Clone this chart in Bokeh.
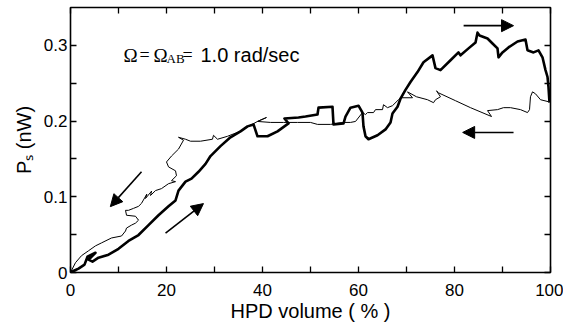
from bokeh.plotting import figure
from bokeh.models import (Range1d, LinearAxis, FixedTicker, Label, Arrow,
                          NormalHead, ColumnDataSource)
from bokeh.embed import file_html
from bokeh.resources import INLINE

# ---------------- data ----------------
# thick curve: HPD volume increasing
hpd_up = [0.0, 0.83, 1.67, 2.92, 3.54, 5.21, 3.75, 4.58, 5.83, 7.92, 10.0, 12.08,
          14.17, 16.25, 18.33, 20.42, 21.88, 22.5, 23.96, 25.21, 26.67, 28.13,
          29.17, 31.25, 33.33, 35.42, 36.88, 38.13, 38.96, 41.04, 43.13, 45.42,
          44.58, 47.5, 48.96, 51.46, 51.67, 54.58, 54.79, 56.88, 57.29, 58.33,
          60.0, 60.83, 61.04, 61.46, 62.08, 63.96, 65.63, 66.67, 67.08, 68.13,
          68.75, 69.79, 70.83, 72.29, 73.54, 75.42, 76.04, 77.08, 79.17, 80.83,
          81.25, 82.92, 84.38, 84.79, 85.21, 86.88, 87.92, 88.96, 89.17, 90.0,
          91.25, 93.13, 94.79, 95.21, 96.46, 97.5, 98.33, 98.96, 99.38, 99.58,
          99.79]
ps_up = [0.0, 0.0026, 0.0052, 0.0104, 0.0209, 0.0261, 0.0169, 0.0143, 0.0196,
         0.0235, 0.0313, 0.0417, 0.0495, 0.0626, 0.0756, 0.0874, 0.0952, 0.1082,
         0.12, 0.1239, 0.133, 0.1434, 0.1538, 0.1669, 0.1786, 0.1864, 0.193,
         0.1956, 0.1799, 0.1799, 0.1864, 0.1969, 0.2034, 0.2047, 0.206, 0.2086,
         0.2177, 0.219, 0.1956, 0.1969, 0.206, 0.2177, 0.2203, 0.2112, 0.193,
         0.1799, 0.176, 0.1812, 0.189, 0.1982, 0.2099, 0.219, 0.2295, 0.2412,
         0.2516, 0.2647, 0.2777, 0.2868, 0.2699, 0.2673, 0.2803, 0.2907, 0.2868,
         0.296, 0.3038, 0.3168, 0.3129, 0.309, 0.3025, 0.296, 0.2842, 0.2907,
         0.2973, 0.3051, 0.3077, 0.2934, 0.2907, 0.2934, 0.2842, 0.2673, 0.2582,
         0.2451, 0.2243]

# thin curve: HPD volume decreasing (from 100 % back to 0)
hpd_down = [99.58, 97.92, 96.88, 96.25, 95.83, 95.63, 95.21, 93.75, 91.67, 90.21,
            88.96, 86.88, 87.71, 83.33, 80.21, 76.67, 76.25, 77.08, 76.04, 75.63,
            74.38, 72.08, 70.21, 71.25, 68.75, 68.33, 67.08, 66.04, 65.21, 65.0,
            63.54, 63.13, 61.88, 61.46, 60.83, 59.38, 58.33, 56.88, 54.17, 51.46,
            50.0, 47.29, 44.38, 41.67, 38.96, 40.83, 38.96, 37.08, 36.04, 34.79,
            32.71, 30.63, 29.79, 29.58, 27.08, 25.0, 23.96, 22.5, 23.54, 22.5,
            21.04, 20.0, 20.42, 21.88, 22.08, 21.04, 21.88, 20.42, 18.96, 17.71,
            16.67, 16.9, 15.63, 15.9, 14.79, 14.17, 13.13, 12.08, 11.46, 11.67,
            13.54, 14.17, 13.54, 12.71, 11.67, 11.46, 10.63, 8.54, 6.46, 5.21,
            3.75, 2.29, 1.04, 0.0]
ps_down = [0.2256, 0.2282, 0.236, 0.2386, 0.2321, 0.2151, 0.2112, 0.2151, 0.2177,
           0.2177, 0.2151, 0.2138, 0.206, 0.2177, 0.2269, 0.2373, 0.2399, 0.2321,
           0.2282, 0.2243, 0.2282, 0.2321, 0.2386, 0.2308, 0.2308, 0.2282, 0.2203,
           0.2177, 0.2216, 0.2151, 0.2151, 0.2112, 0.2112, 0.2086, 0.2112, 0.1995,
           0.1982, 0.1982, 0.1956, 0.1956, 0.1982, 0.1982, 0.1982, 0.1982, 0.1995,
           0.2047, 0.1995, 0.193, 0.189, 0.1851, 0.1799, 0.176, 0.1812, 0.176,
           0.1734, 0.1734, 0.176, 0.1786, 0.1747, 0.163, 0.1538, 0.146, 0.1395,
           0.1343, 0.1278, 0.1213, 0.12, 0.1173, 0.1108, 0.1082, 0.1017, 0.1075,
           0.0978, 0.1035, 0.0913, 0.0874, 0.0847, 0.0821, 0.0821, 0.0756, 0.0743,
           0.0691, 0.0652, 0.0626, 0.0587, 0.0548, 0.0482, 0.0456, 0.0391, 0.0352,
           0.0287, 0.0222, 0.013, 0.0]

# direction arrows (tail -> tip)
arrow_x_start = [19.8, 14.8, 81.9, 92.3]
arrow_y_start = [0.052, 0.133, 0.326, 0.185]
arrow_x_end = [27.7, 8.3, 92.3, 81.7]
arrow_y_end = [0.091, 0.087, 0.326, 0.185]

# ticks
x_ticks = [0, 20, 40, 60, 80, 100]
x_minor_ticks = [10, 30, 50, 70, 90]
y_ticks = [0, 0.1, 0.2, 0.3]
y_tick_labels = ["0", "0.1", "0.2", "0.3"]
y_minor_ticks = [0.05, 0.15, 0.25]

# ---------------- figure ----------------
SANS = "Liberation Sans"
SERIF = "Liberation Serif"

p = figure(width=563, height=324, output_backend="svg", toolbar_location=None,
           x_range=Range1d(0, 100), y_range=Range1d(0, 0.35),
           min_border_left=70, min_border_right=13, min_border_top=7,
           min_border_bottom=49)
p.background_fill_color = "white"
p.border_fill_color = "white"
p.outline_line_color = "black"
p.outline_line_width = 1.6
p.grid.visible = False


def style_axis(ax, ticks, minor, show_labels):
    ax.ticker = FixedTicker(ticks=ticks, minor_ticks=minor)
    ax.axis_line_color = None
    ax.major_tick_in = 6
    ax.major_tick_out = 0
    ax.minor_tick_in = 6
    ax.minor_tick_out = 0
    ax.major_tick_line_color = "black"
    ax.minor_tick_line_color = "black"
    ax.major_tick_line_width = 1.3
    ax.minor_tick_line_width = 1.3
    if show_labels:
        ax.major_label_text_font = SANS
        ax.major_label_text_font_size = "17px"
        ax.major_label_text_color = "black"
    else:
        ax.major_label_text_font_size = "0px"
        ax.major_label_standoff = 0
        ax.major_label_overrides = {t: "" for t in ticks}


xa = p.xaxis[0]
style_axis(xa, x_ticks, x_minor_ticks, True)
xa.major_label_standoff = 11
xa.axis_label = "HPD volume ( % )"
xa.axis_label_text_font = SANS
xa.axis_label_text_font_size = "20px"
xa.axis_label_text_font_style = "normal"
xa.axis_label_text_color = "black"
xa.axis_label_standoff = 1

ya = p.yaxis[0]
style_axis(ya, y_ticks, y_minor_ticks, True)
ya.major_label_standoff = 3
ya.major_label_overrides = {t: s for t, s in zip(y_ticks, y_tick_labels)}
ya.axis_label = "Pₛ (nW)"
ya.axis_label_text_font = SANS
ya.axis_label_text_font_size = "20px"
ya.axis_label_text_font_style = "normal"
ya.axis_label_text_color = "black"
ya.axis_label_standoff = 6

top_ax = LinearAxis()
style_axis(top_ax, x_ticks, x_minor_ticks, False)
p.add_layout(top_ax, "above")
right_ax = LinearAxis()
style_axis(right_ax, y_ticks, y_minor_ticks, False)
p.add_layout(right_ax, "right")

# curves
p.line(hpd_up, ps_up, line_color="black", line_width=2.6, line_join="round")
p.line(hpd_down, ps_down, line_color="black", line_width=1.0, line_join="round")

# arrows
asrc = ColumnDataSource(dict(xs=arrow_x_start, ys=arrow_y_start,
                             xe=arrow_x_end, ye=arrow_y_end))
p.add_layout(Arrow(source=asrc, x_start="xs", y_start="ys", x_end="xe", y_end="ye",
                   line_color="black", line_width=1.6,
                   end=NormalHead(size=12, fill_color="black", line_color="black",
                                  line_width=1)))

# annotation text  Omega = Omega_AB = 1.0 rad/sec
ann_x, ann_y = 11.04, 0.2868
ann_parts = [("Ω", 0, 0, SERIF, "19px"), ("=", 16, 0, SERIF, "18px"),
             ("Ω", 30, 0, SERIF, "19px"), ("AB", 43, -3, SERIF, "13px"),
             ("=", 59, 0, SERIF, "18px"), ("1.0 rad/sec", 77, 0, SANS, "20px")]
for txt, dx, dy, fnt, fs in ann_parts:
    p.add_layout(Label(x=ann_x, y=ann_y, x_offset=dx, y_offset=dy, text=txt,
                       text_font=fnt, text_font_size=fs, text_color="black",
                       text_baseline="alphabetic"))

open("out.html", "w").write(file_html(p, INLINE))
